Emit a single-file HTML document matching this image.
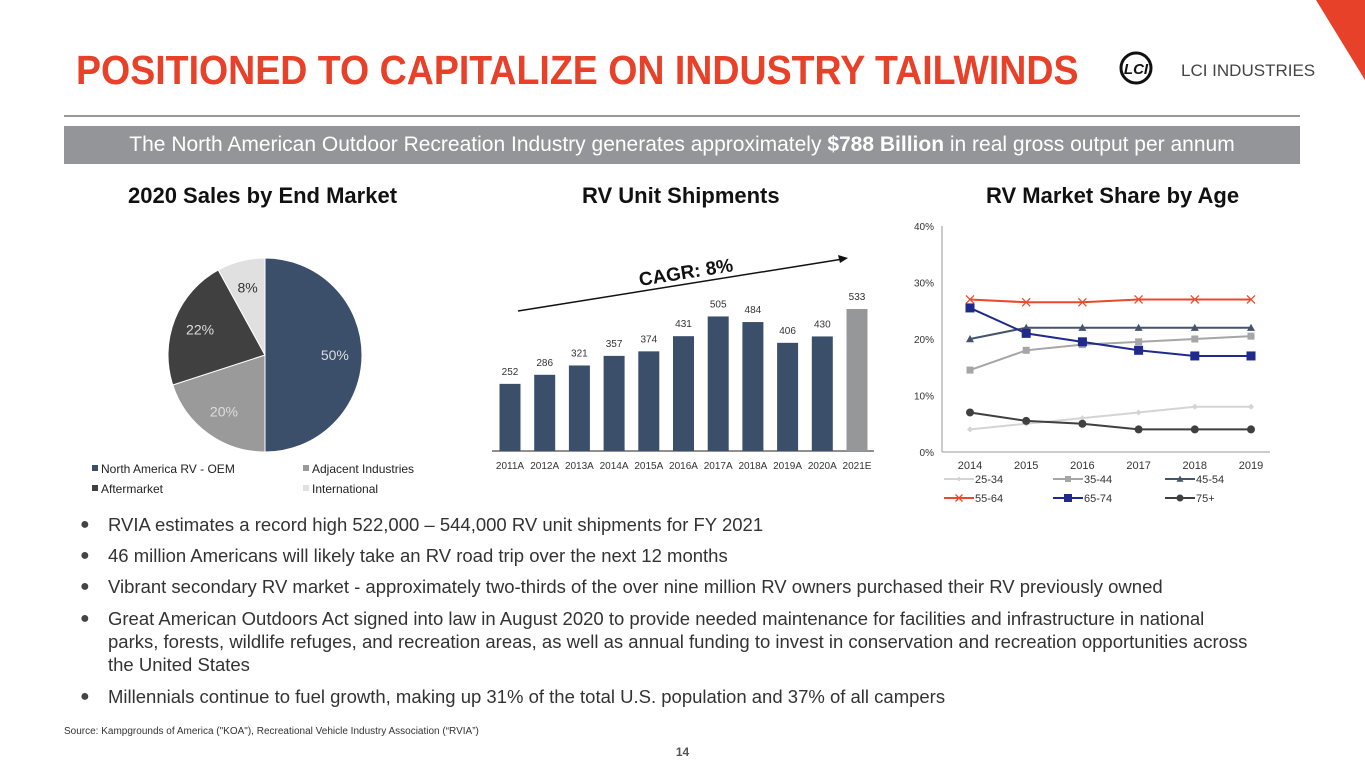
<!DOCTYPE html>
<html><head><meta charset="utf-8"><style>
*{margin:0;padding:0;box-sizing:border-box}
body{width:1365px;height:768px;background:#fff;font-family:"Liberation Sans",sans-serif;position:relative;overflow:hidden}
.abs{position:absolute}
.title{left:76px;top:47px;font-size:41px;font-weight:bold;color:#e8412a;white-space:nowrap;transform:scaleX(0.915);transform-origin:left top}
.sec{font-size:22px;font-weight:bold;color:#111;white-space:nowrap}
.bul{left:86px;font-size:18.5px;color:#333;line-height:23px;width:1162px}
.bul span.dot{position:absolute;left:-6px;top:0;color:#444;font-size:16px}
.bul p{padding-left:22px;position:relative}
</style></head><body>
<svg class="abs" style="left:0;top:0" width="1365" height="768">
<polygon points="1316,0 1365,0 1365,80" fill="#e8412a"/>
<line x1="64" y1="116" x2="1300" y2="116" stroke="#999" stroke-width="2"/>
<rect x="64" y="126" width="1236" height="38" fill="#939598"/>
</svg>
<div class="abs title">POSITIONED TO CAPITALIZE ON INDUSTRY TAILWINDS</div>
<svg class="abs" style="left:1118px;top:50px" width="36" height="36"><circle cx="18" cy="18" r="15" fill="none" stroke="#111" stroke-width="3"/><text x="18" y="24" font-size="15" font-weight="bold" text-anchor="middle" font-style="italic" fill="#111">LCI</text></svg>
<div class="abs" style="left:1181px;top:61px;font-size:17px;color:#444">LCI INDUSTRIES</div>
<div class="abs" style="left:64px;top:133px;width:1236px;text-align:center;font-size:21px;color:#fff;white-space:nowrap">The North American Outdoor Recreation Industry generates approximately <b>$788 Billion</b> in real gross output per annum</div>
<div class="abs sec" style="left:128px;top:183px">2020 Sales by End Market</div>
<div class="abs sec" style="left:582px;top:183px">RV Unit Shipments</div>
<div class="abs sec" style="left:986px;top:183px">RV Market Share by Age</div>

<svg id="pie" class="abs" style="left:0;top:0" width="480" height="510"></svg>
<svg id="bar" class="abs" style="left:0;top:0" width="900" height="500"></svg>
<svg id="line" class="abs" style="left:0;top:0" width="1365" height="520"></svg>

<div class="abs bul" style="top:513px">
<p style="margin-bottom:8px"><span class="dot">●</span>RVIA estimates a record high 522,000 – 544,000 RV unit shipments for FY 2021</p>
<p style="margin-bottom:8px"><span class="dot">●</span>46 million Americans will likely take an RV road trip over the next 12 months</p>
<p style="margin-bottom:9px"><span class="dot">●</span>Vibrant secondary RV market - approximately two-thirds of the over nine million RV owners purchased their RV previously owned</p>
<p style="margin-bottom:9px"><span class="dot">●</span>Great American Outdoors Act signed into law in August 2020 to provide needed maintenance for facilities and infrastructure in national parks, forests, wildlife refuges, and recreation areas, as well as annual funding to invest in conservation and recreation opportunities across the United States</p>
<p><span class="dot">●</span>Millennials continue to fuel growth, making up 31% of the total U.S. population and 37% of all campers</p>
</div>
<div class="abs" style="left:64px;top:726px;font-size:10px;color:#333">Source: Kampgrounds of America ("KOA"), Recreational Vehicle Industry Association (“RVIA”)</div>
<div class="abs" style="left:0;width:1365px;top:745px;text-align:center;font-size:12px;font-weight:bold;color:#555">14</div>

<script>
const NS='http://www.w3.org/2000/svg';
function mk(p,t,a){const e=document.createElementNS(NS,t);for(const k in a)e.setAttribute(k,a[k]);p.appendChild(e);return e;}
// PIE
const pieLabels=['North America RV - OEM','Adjacent Industries','Aftermarket','International'];
const pieValues=[50,20,22,8];
const pieColors=['#3b4f6b','#9a9a9a','#404040','#e0e0e0'];
(function(){const s=document.getElementById('pie');const cx=265,cy=355,r=97;let a=0;
pieValues.forEach((v,i)=>{const a0=a,a1=a+v/100*2*Math.PI;a=a1;
const x0=cx+r*Math.sin(a0),y0=cy-r*Math.cos(a0),x1=cx+r*Math.sin(a1),y1=cy-r*Math.cos(a1);
const p=mk(s,'path',{d:`M${cx},${cy}L${x0},${y0}A${r},${r} 0 ${a1-a0>Math.PI?1:0} 1 ${x1},${y1}Z`,fill:pieColors[i],stroke:'#fff','stroke-width':1});


const m=(a0+a1)/2,lr=r*0.72;
const t=mk(s,'text',{x:cx+lr*Math.sin(m),y:cy-lr*Math.cos(m)+5,'text-anchor':'middle','font-size':14,fill:i==3?'#333':'#ddd'});t.textContent=pieValues[i]+'%';


const lx=[92,303,92,303][i],ly=[473,473,493,493][i];
const sw=mk(s,'rect',{x:lx,y:ly-8,width:6,height:6,fill:pieColors[i]});


const lt=mk(s,'text',{x:lx+9,y:ly,'font-size':12,fill:'#222'});lt.textContent=pieLabels[i];


});})();
// BAR
const barCats=['2011A','2012A','2013A','2014A','2015A','2016A','2017A','2018A','2019A','2020A','2021E'];
const barValues=[252,286,321,357,374,431,505,484,406,430,533];
(function(){const s=document.getElementById('bar');const base=451,k=142/533,x0=510,dx=34.7,w=21;
mk(s,'line',{x1:492,y1:base,x2:874,y2:base,stroke:'#222','stroke-width':1});
barValues.forEach((v,i)=>{const cx=x0+i*dx,h=v*k;
const b=mk(s,'rect',{x:cx-w/2,y:base-h,width:w,height:h,fill:i==10?'#959799':'#3b4f6b'});


const t=mk(s,'text',{x:cx,y:base-h-9,'text-anchor':'middle','font-size':10,fill:'#333'});t.textContent=v;


const c=mk(s,'text',{x:cx,y:469,'text-anchor':'middle','font-size':10,fill:'#333'});c.textContent=barCats[i];

});
mk(s,'line',{x1:518,y1:311,x2:843,y2:259,stroke:'#111','stroke-width':1.5});
mk(s,'polygon',{points:'848,258 838,255 840,263',fill:'#111'});
const g=mk(s,'text',{x:640,y:286,'font-size':19,'font-weight':'bold',fill:'#111',transform:'rotate(-9 640 286)'});g.textContent='CAGR: 8%';


})();
// LINE
const years=['2014','2015','2016','2017','2018','2019'];
const yTicks=[0,10,20,30,40];
const seriesNames=['25-34','35-44','45-54','55-64','65-74','75+'];
const s2534=[4,5,6,7,8,8];
const s3544=[14.5,18,19,19.5,20,20.5];
const s4554=[20,22,22,22,22,22];
const s5564=[27,26.5,26.5,27,27,27];
const s6574=[25.5,21,19.5,18,17,17];
const s75=[7,5.5,5,4,4,4];
(function(){const s=document.getElementById('line');
const X=i=>970+i*56.2,Y=v=>452-v*5.65;
mk(s,'line',{x1:942,y1:226,x2:942,y2:452,stroke:'#999'});mk(s,'line',{x1:942,y1:452,x2:1270,y2:452,stroke:'#999'});
yTicks.forEach(v=>{const t=mk(s,'text',{x:934,y:Y(v)+4,'text-anchor':'end','font-size':10,fill:'#333'});t.textContent=v+'%';

});
years.forEach((y,i)=>{const t=mk(s,'text',{x:X(i),y:469,'text-anchor':'middle','font-size':11,fill:'#333'});t.textContent=y;

});
const data=[s2534,s3544,s4554,s5564,s6574,s75];
const cols=['#d4d4d4','#a6a6a6','#44546a','#ea4a2c','#1f2a8c','#404040'];
const mks=['dia','sq','tri','x','sq','circ'];
const sz=[3,3.5,4,4,4.5,4];
function marker(g,type,x,y,c,r){
 if(type=='dia')mk(g,'polygon',{points:`${x},${y-r} ${x+r},${y} ${x},${y+r} ${x-r},${y}`,fill:c});
 else if(type=='sq')mk(g,'rect',{x:x-r,y:y-r,width:2*r,height:2*r,fill:c});
 else if(type=='tri')mk(g,'polygon',{points:`${x},${y-r} ${x+r},${y+r*0.8} ${x-r},${y+r*0.8}`,fill:c});
 else if(type=='circ')mk(g,'circle',{cx:x,cy:y,r:r,fill:c});
 else {mk(g,'path',{d:`M${x-r},${y-r}L${x+r},${y+r}M${x-r},${y+r}L${x+r},${y-r}`,stroke:c,'stroke-width':1.3});}
}
const order=[0,1,2,3,5,4];
order.forEach(si=>{const g=mk(s,'g',{});


mk(g,'polyline',{points:data[si].map((v,i)=>X(i)+','+Y(v)).join(' '),fill:'none',stroke:cols[si],'stroke-width':2});
data[si].forEach((v,i)=>marker(g,mks[si],X(i),Y(v),cols[si],sz[si]));});
seriesNames.forEach((n,i)=>{const lx=[944,1053,1165][i%3],ly=i<3?479:498;
const g=mk(s,'g',{});


mk(g,'line',{x1:lx,y1:ly,x2:lx+30,y2:ly,stroke:cols[i],'stroke-width':2});
marker(g,mks[i],lx+15,ly,cols[i],sz[i]-0.5);
const t=mk(g,'text',{x:lx+31,y:ly+4,'font-size':11,fill:'#333'});t.textContent=n;});
})();
</script>
</body></html>
